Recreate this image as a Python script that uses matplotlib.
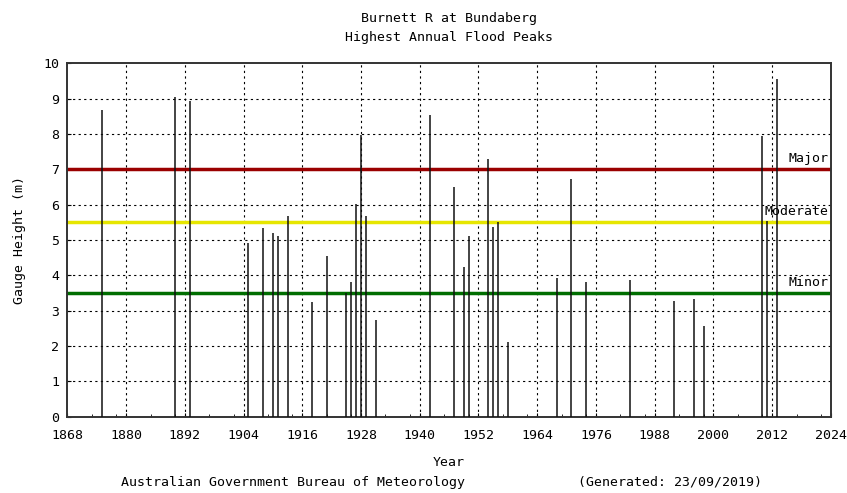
import numpy as np
import matplotlib
matplotlib.use('Agg')
import matplotlib.pyplot as plt

# annual flood peaks
years = [1875, 1890, 1893, 1905, 1908, 1910, 1911, 1913, 1918, 1921,
         1925, 1926, 1927, 1928, 1929, 1931, 1942, 1947, 1949, 1950,
         1954, 1955, 1956, 1958, 1968, 1971, 1974, 1983, 1992, 1996,
         1998, 2010, 2011, 2013]
heights = [8.68, 9.06, 8.93, 4.91, 5.35, 5.20, 5.11, 5.68, 3.24, 4.54,
           3.50, 3.80, 6.03, 7.97, 5.67, 2.75, 8.53, 6.49, 4.23, 5.10,
           7.30, 5.36, 5.52, 2.10, 3.92, 6.73, 3.80, 3.88, 3.28, 3.32,
           2.56, 7.95, 5.55, 9.55]

levels = ['Major', 'Moderate', 'Minor']
level_heights = [7.0, 5.5, 3.5]
level_colors = ['#9a0000', '#e6e600', '#006e00']

x_ticks = list(range(1868, 2025, 12))
y_ticks = list(range(0, 11))

mono = 'DejaVu Sans Mono'
fs = 9.5

fig = plt.figure(figsize=(8.47, 4.93), dpi=100)
ax = fig.add_axes([0.0795, 0.1548, 0.9015, 0.7168])

ax.set_xlim(1868, 2024)
ax.set_ylim(0, 10)

for yl in y_ticks[1:-1]:
    ax.axhline(yl, color='black', lw=0.8, ls=(0, (2, 3)), zorder=1)
for xl in x_ticks[1:-1]:
    ax.axvline(xl, color='black', lw=0.8, ls=(0, (2, 3)), zorder=1)

for name, h, c in zip(levels, level_heights, level_colors):
    ax.axhline(h, color=c, lw=2.5, zorder=2)
    ax.text(2023.6, h + 0.12, name, ha='right', va='bottom',
            family=mono, fontsize=fs, zorder=4)

ax.vlines(years, 0, heights, color='#111111', lw=1.1, zorder=3)

ax.set_xticks(x_ticks)
ax.set_yticks(y_ticks)
minor = [m + d for m in x_ticks[:-1] for d in (5, 10)]
ax.set_xticks(minor, minor=True)
ax.tick_params(axis='x', which='major', direction='in', length=3,
               labelsize=fs, pad=9)
ax.tick_params(axis='y', which='major', direction='in', length=3,
               labelsize=fs, pad=6)
ax.tick_params(axis='x', which='minor', direction='in', length=2)
for lab in ax.get_xticklabels() + ax.get_yticklabels():
    lab.set_family(mono)

for sp in ax.spines.values():
    sp.set_color('#333333')
    sp.set_linewidth(1.4)

ax.set_ylabel('Gauge Height (m)', family=mono, fontsize=fs, labelpad=12)

fig.text(0.53, 0.975, 'Burnett R at Bundaberg', ha='center', va='top',
         family=mono, fontsize=fs)
fig.text(0.53, 0.938, 'Highest Annual Flood Peaks', ha='center', va='top',
         family=mono, fontsize=fs)
fig.text(0.53, 0.061, 'Year', ha='center', va='center',
         family=mono, fontsize=fs)
fig.text(0.143, 0.022, 'Australian Government Bureau of Meteorology',
         ha='left', va='center', family=mono, fontsize=fs)
fig.text(0.682, 0.022, '(Generated: 23/09/2019)',
         ha='left', va='center', family=mono, fontsize=fs)

fig.savefig('out.png', dpi=100)
